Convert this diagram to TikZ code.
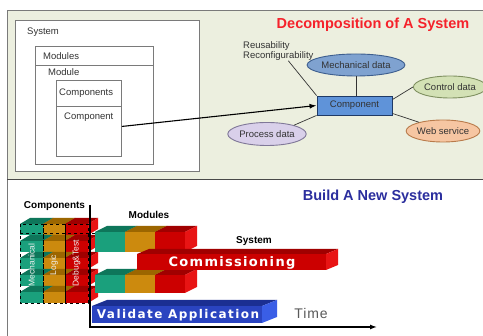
\documentclass[tikz,border=0pt]{standalone}
\usepackage{fontspec}
\setmainfont{Liberation Sans}
\newfontfamily\barfont[LetterSpace=12]{DejaVu Sans}
\newfontfamily\commfont[LetterSpace=10]{DejaVu Sans}
\newfontfamily\timefont[LetterSpace=6]{Liberation Sans}
\usetikzlibrary{shapes.geometric,arrows.meta}

\definecolor{panelbg}{HTML}{ECEFDF}
\definecolor{frameg}{HTML}{7A7A7A}
\definecolor{txtg}{HTML}{333333}
\definecolor{compblue}{HTML}{5F93D9}
\definecolor{compedge}{HTML}{1F3A66}
\definecolor{mechfill}{HTML}{7FA2D0}
\definecolor{mechedge}{HTML}{3D5E8E}
\definecolor{ctrlfill}{HTML}{D3E1B5}
\definecolor{ctrledge}{HTML}{7F9060}
\definecolor{webfill}{HTML}{F6C6A2}
\definecolor{webedge}{HTML}{B87A4A}
\definecolor{procfill}{HTML}{D9D0EA}
\definecolor{procedge}{HTML}{807898}
\definecolor{titlered}{HTML}{F5222B}
\definecolor{navy}{HTML}{2B2E9E}
\definecolor{grnF}{HTML}{1AA07C}
\definecolor{grnT}{HTML}{0E765A}
\definecolor{orF}{HTML}{CC8A0E}
\definecolor{orT}{HTML}{9C6600}
\definecolor{redF}{HTML}{CC0000}
\definecolor{redT}{HTML}{A00000}
\definecolor{redS}{HTML}{E81414}
\definecolor{bluF}{HTML}{2A44C0}
\definecolor{bluT}{HTML}{1B2F92}
\definecolor{bluS}{HTML}{3A5EE6}

% a bar seen from above right: front (x1,y1)-(x2,y2), depth (dx,dy), face colours
\newcommand\cuboid[9]{%
  \fill[#7] (#1,#2) rectangle (#3,#4);
  \fill[#8] (#1,#2) -- (#1+#5,#2-#6) -- (#3+#5,#2-#6) -- (#3,#2) -- cycle;
  \fill[#9] (#3,#2) -- (#3+#5,#2-#6) -- (#3+#5,#4-#6) -- (#3,#4) -- cycle;}

\tikzset{
  box/.style={draw=frameg, line width=0.9pt, fill=white, anchor=north west, inner sep=0pt},
  lbl/.style={anchor=west, inner sep=0pt, text=txtg, font=\fontsize{9.5}{11}\selectfont},
  blob/.style={ellipse, inner sep=0pt, line width=0.9pt, text=txtg, font=\fontsize{9.5}{11}\selectfont},
  link/.style={draw=txtg, line width=0.7pt},
  head/.style={inner sep=0pt, font=\fontsize{10}{12}\selectfont\bfseries},
  coltext/.style={rotate=90, inner sep=0pt, text=white!88!gray, font=\fontsize{8.5}{10}\selectfont},
}

\begin{document}
\begin{tikzpicture}[x=1pt,y=-1pt]
\useasboundingbox (0,0) rectangle (483,336);
\fill[white] (0,0) rectangle (483,336);

% ---------- upper panel: decomposition ----------
\fill[panelbg] (7,10) rectangle (484,179);
\draw[frameg, line width=0.9pt] (484,10) -- (7,10) -- (7,179) -- (484,179);

\node[box, minimum width=184pt, minimum height=151pt] (sysbox) at (15,20) {};
\node[lbl] (systxt) at (27,32) {System};
\node[box, minimum width=118pt, minimum height=118pt] (modbox) at (35,46) {};
\draw[frameg, line width=0.9pt] (35,65) -- (153,65);
\node[lbl] (modstxt) at (43,56) {Modules};
\node[lbl] (modtxt) at (48,72) {Module};
\node[box, minimum width=65pt, minimum height=76pt] (compbox) at (56,80) {};
\draw[frameg, line width=0.9pt] (56,106) -- (121,106);
\node[lbl] (compstxt) at (59,93) {Components};
\node[lbl] (comptxt) at (64,117) {Component};

\node[font=\fontsize{14.5}{16}\selectfont\bfseries, text=titlered, inner sep=0pt] (title) at (373,25) {Decomposition of A System};

\node[draw=compedge, fill=compblue, line width=0.9pt, minimum width=75pt, minimum height=19pt, inner sep=0pt,
      text=txtg, font=\fontsize{9.5}{11}\selectfont] (comp) at (354.5,105.5) {Component};
\node[blob, draw=mechedge, fill=mechfill, minimum width=84pt, minimum height=22pt] (mech) at (356,65) {Mechanical data};
\node[blob, draw=ctrledge, fill=ctrlfill, minimum width=71pt, minimum height=22pt] (ctrl) at (450,87) {Control data};
\node[blob, draw=webedge, fill=webfill, minimum width=69pt, minimum height=22pt] (web) at (443,131) {Web service};
\node[blob, draw=procedge, fill=procfill, minimum width=77pt, minimum height=23pt] (proc) at (267,134) {Process data};
\node[anchor=north west, inner sep=0pt, align=left, text=txtg, font=\fontsize{9.5}{10.5}\selectfont] (reus) at (243,41)
  {Reusability\\Reconfigurability};

\draw[link] ([xshift=10pt]reus.south) -- (comp.north west);
\draw[link] (mech.south) -- (mech.south |- comp.north);
\draw[link] ([yshift=-4pt]comp.north east) -- (ctrl.west);
\draw[link] ([yshift=2pt]comp.south east) -- (web.160);
\draw[link] (proc.18) -- (comp.south west);
\draw[black, line width=1.1pt, -{Latex[length=7pt,width=5pt]}] ([yshift=-8pt]compbox.east) -- (comp.west);

% ---------- lower panel: building a system ----------
\draw[frameg!60!black, line width=1pt] (7,180) -- (484,180);
\draw[frameg, line width=0.9pt] (7,180) -- (7,337);

\node[font=\fontsize{14.5}{16}\selectfont\bfseries, text=navy, inner sep=0pt] (build) at (373,197) {Build A New System};
\node[head] (hcomp) at (54.5,206) {Components};
\node[head] (hmod) at (149,215) {Modules};
\node[head] (hsys) at (254,241) {System};

% component stack: five rows in three columns
\foreach \r in {0,...,4}{
  \pgfmathsetmacro\F{224+17*\r}
  \cuboid{20}{\F}{43}{\F+11}{10}{6}{grnF}{grnT}{grnT}
  \cuboid{43}{\F}{65}{\F+11}{10}{6}{orF}{orT}{orT}
  \cuboid{65}{\F}{88}{\F+11}{10}{6}{redF}{redT}{redS}
}
\draw[black, dashed, line width=0.6pt] (20,224) rectangle (43,303);
\draw[black, dashed, line width=0.6pt] (43,224) rectangle (65,303);
\draw[black, dashed, line width=0.6pt] (65,224) rectangle (88,303);
\draw[black, dashed, line width=0.6pt] (20,233) -- (98,233);
\node[coltext] (cmech) at (31.5,265) {Mechanical};
\node[coltext] (clogic) at (54,265) {Logic};
\node[coltext] (cdebug) at (76.5,263) {Debug\&Test};

% modules
\cuboid{95}{232}{125}{252}{12}{6}{grnF}{grnT}{grnT}
\cuboid{125}{232}{155}{252}{12}{6}{orF}{orT}{orT}
\cuboid{155}{232}{185}{252}{12}{6}{redF}{redT}{redS}
\cuboid{95}{275}{125}{293}{12}{6}{grnF}{grnT}{grnT}
\cuboid{125}{275}{155}{293}{12}{6}{orF}{orT}{orT}
\cuboid{155}{275}{185}{293}{12}{6}{redF}{redT}{redS}

% system phases
\cuboid{137}{254}{326}{270}{12}{5}{redF}{redT}{redS}
\node[inner sep=0pt, text=white, font=\commfont\fontsize{13}{15}\selectfont\bfseries] (comm) at (232,263) {Commissioning};
\cuboid{92}{306}{262}{323}{15}{6}{bluF}{bluT}{bluS}
\node[inner sep=0pt, text=white, font=\barfont\fontsize{12}{14}\selectfont\bfseries] (valid) at (178,315.5) {Validate Application};

% time axis
\coordinate (axtop) at (90,205);
\coordinate (axorig) at (90,327);
\coordinate (axend) at (377,327);
\draw[black, line width=1.3pt, -{Latex[length=7pt,width=5pt]}] (axtop) -- (axorig) -- (axend);
\node[inner sep=0pt, text=black!65, font=\timefont\fontsize{14}{16}\selectfont] (time) at (311,314) {Time};
\end{tikzpicture}
\end{document}
